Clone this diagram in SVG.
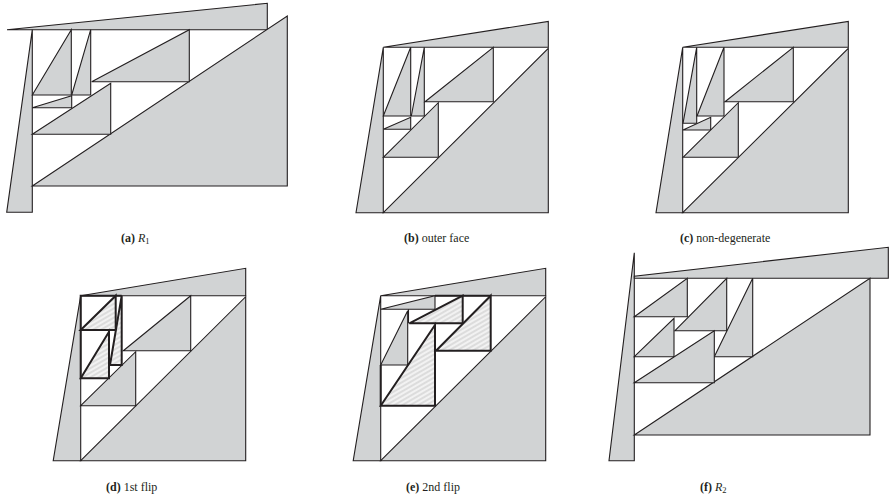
<svg xmlns="http://www.w3.org/2000/svg" width="889" height="496" viewBox="0 0 889 496">
<defs>
<pattern id="hatch" patternUnits="userSpaceOnUse" width="4" height="4" patternTransform="rotate(-30)">
<rect width="4" height="4" fill="#dcdcdc"/>
<line x1="0" y1="2" x2="4" y2="2" stroke="#ffffff" stroke-width="1.3"/>
</pattern>
</defs>
<style>
.g{fill:#d1d3d4;stroke:#231f20;stroke-width:1.1;stroke-linejoin:miter}
.h{fill:url(#hatch);stroke:#231f20;stroke-width:2;stroke-linejoin:miter}
.l{fill:none;stroke:#231f20;stroke-width:1.1}
.b{fill:none;stroke:#231f20;stroke-width:2}
.cap{font-family:"Liberation Serif","Times New Roman",serif;font-size:12px;fill:#231f20}
</style>
<rect width="889" height="496" fill="#ffffff"/>

<g id="panel-a">
<polygon class="g" points="7,29.7 267.3,3.3 267.3,29.7"/>
<polygon class="g" points="32.3,29.7 32.3,212.3 6.7,212.3"/>
<polygon class="g" points="32.3,186 287.3,16 287.3,186"/>
<polygon class="g" points="32.3,95 71.3,29.7 71.3,95"/>
<polygon class="g" points="71.7,95 90.7,29.7 90.7,95"/>
<polygon class="g" points="32.3,107.7 71.7,95.7 71.7,107.7"/>
<polygon class="g" points="91.7,81.7 189.3,29.7 189.3,81.7"/>
<polygon class="g" points="32.3,134.3 110.7,83.3 110.7,134.3"/>
<text class="cap" x="121" y="242"><tspan font-weight="bold">(a)</tspan> <tspan font-style="italic">R</tspan><tspan font-size="8.5" dy="2">1</tspan></text>
</g>

<g id="panel-b">
<polygon class="g" points="383.3,47.3 548.3,21.4 548.3,47.3"/>
<polygon class="g" points="383.3,47.3 383.3,212.7 356,212.7"/>
<polygon class="g" points="383.3,212.7 548.3,48.3 548.3,212.7"/>
<polygon class="g" points="383.3,116 410.7,47.3 410.7,116"/>
<polygon class="g" points="411.3,116 424.3,47.3 424.3,116"/>
<polygon class="g" points="383.3,129.3 410.7,117.3 410.7,129.3"/>
<polygon class="g" points="425,101.7 493.3,47.3 493.3,101.7"/>
<polygon class="g" points="383.3,157.3 438.3,102.7 438.3,157.3"/>
<text class="cap" x="404" y="242"><tspan font-weight="bold">(b)</tspan> outer face</text>
</g>

<g id="panel-c">
<polygon class="g" points="682.7,47.3 848.3,21.4 848.3,47.3"/>
<polygon class="g" points="682.7,47.3 682.7,212.7 656,212.7"/>
<polygon class="g" points="682.7,212.7 848.3,48.3 848.3,212.7"/>
<polygon class="g" points="683,123.3 696.7,47.3 696.7,123.3"/>
<polygon class="g" points="697,116 724,47.3 724,116"/>
<polygon class="g" points="683,130 710.7,117.3 710.7,130"/>
<polygon class="g" points="725,101.7 793.3,47.3 793.3,101.7"/>
<polygon class="g" points="683,157.3 738.3,102.7 738.3,157.3"/>
<text class="cap" x="680" y="242"><tspan font-weight="bold">(c)</tspan> non-degenerate</text>
</g>

<g id="panel-d">
<polygon class="g" points="80.7,295.7 245.7,268.3 245.7,295.7"/>
<polygon class="g" points="80.7,295.7 80.7,460.7 53.2,460.7"/>
<polygon class="g" points="80.7,460.7 245.7,296.7 245.7,460.7"/>
<polygon class="g" points="123.3,350.7 190.7,295.7 190.7,350.7"/>
<polygon class="g" points="80.7,405.7 135.7,351.7 135.7,405.7"/>
<polygon class="h" points="80.7,330 115.7,295.7 115.7,330"/>
<polygon class="h" points="80.7,378.3 109,331.7 109,378.3"/>
<polygon class="h" points="110,365 121.7,295.7 121.7,365"/>
<polyline class="b" points="80.7,378.3 80.7,295.7 121.7,295.7"/>
<line class="b" x1="109" y1="330" x2="109" y2="378.3"/>
<text class="cap" x="106" y="491"><tspan font-weight="bold">(d)</tspan> 1st flip</text>
</g>

<g id="panel-e">
<polygon class="g" points="380.7,295.7 545.7,268.3 545.7,295.7"/>
<polygon class="g" points="380.7,295.7 380.7,460.7 353.2,460.7"/>
<polygon class="g" points="380.7,460.7 545.7,296.7 545.7,460.7"/>
<polygon class="g" points="380.7,309.3 435,295.7 435,309.3"/>
<polygon class="g" points="380.7,365 407.7,310.7 407.7,365"/>
<line class="l" x1="408.5" y1="309.3" x2="408.5" y2="323.3"/>
<polygon class="h" points="409.3,323.3 462.7,295.7 462.7,323.3"/>
<polygon class="h" points="380.7,405.7 435,325 435,405.7"/>
<polygon class="h" points="436,350.7 490.7,295.7 490.7,350.7"/>
<polyline class="b" points="435,295.7 490.7,295.7"/>
<polyline class="b" points="380.7,365 380.7,405.7"/>
<text class="cap" x="406" y="491"><tspan font-weight="bold">(e)</tspan> 2nd flip</text>
</g>

<g id="panel-f">
<polygon class="g" points="634.3,252.7 634.3,460.7 609,460.7"/>
<polygon class="g" points="634.3,278.3 634.3,276.2 888.3,247.3 888.3,278.3"/>
<polygon class="g" points="634.3,435 870,278.3 870,435"/>
<polygon class="g" points="634.3,316.7 687.3,278.3 687.3,316.7"/>
<polygon class="g" points="675,330.7 726.7,278.3 726.7,330.7"/>
<polygon class="g" points="634.3,356.7 674,318.3 674,356.7"/>
<polygon class="g" points="714.3,356.7 752.7,278.3 752.7,356.7"/>
<polygon class="g" points="634.3,382.7 714.3,330.7 714.3,382.7"/>
<text class="cap" x="700" y="491"><tspan font-weight="bold">(f)</tspan> <tspan font-style="italic">R</tspan><tspan font-size="8.5" dy="2">2</tspan></text>
</g>
</svg>
